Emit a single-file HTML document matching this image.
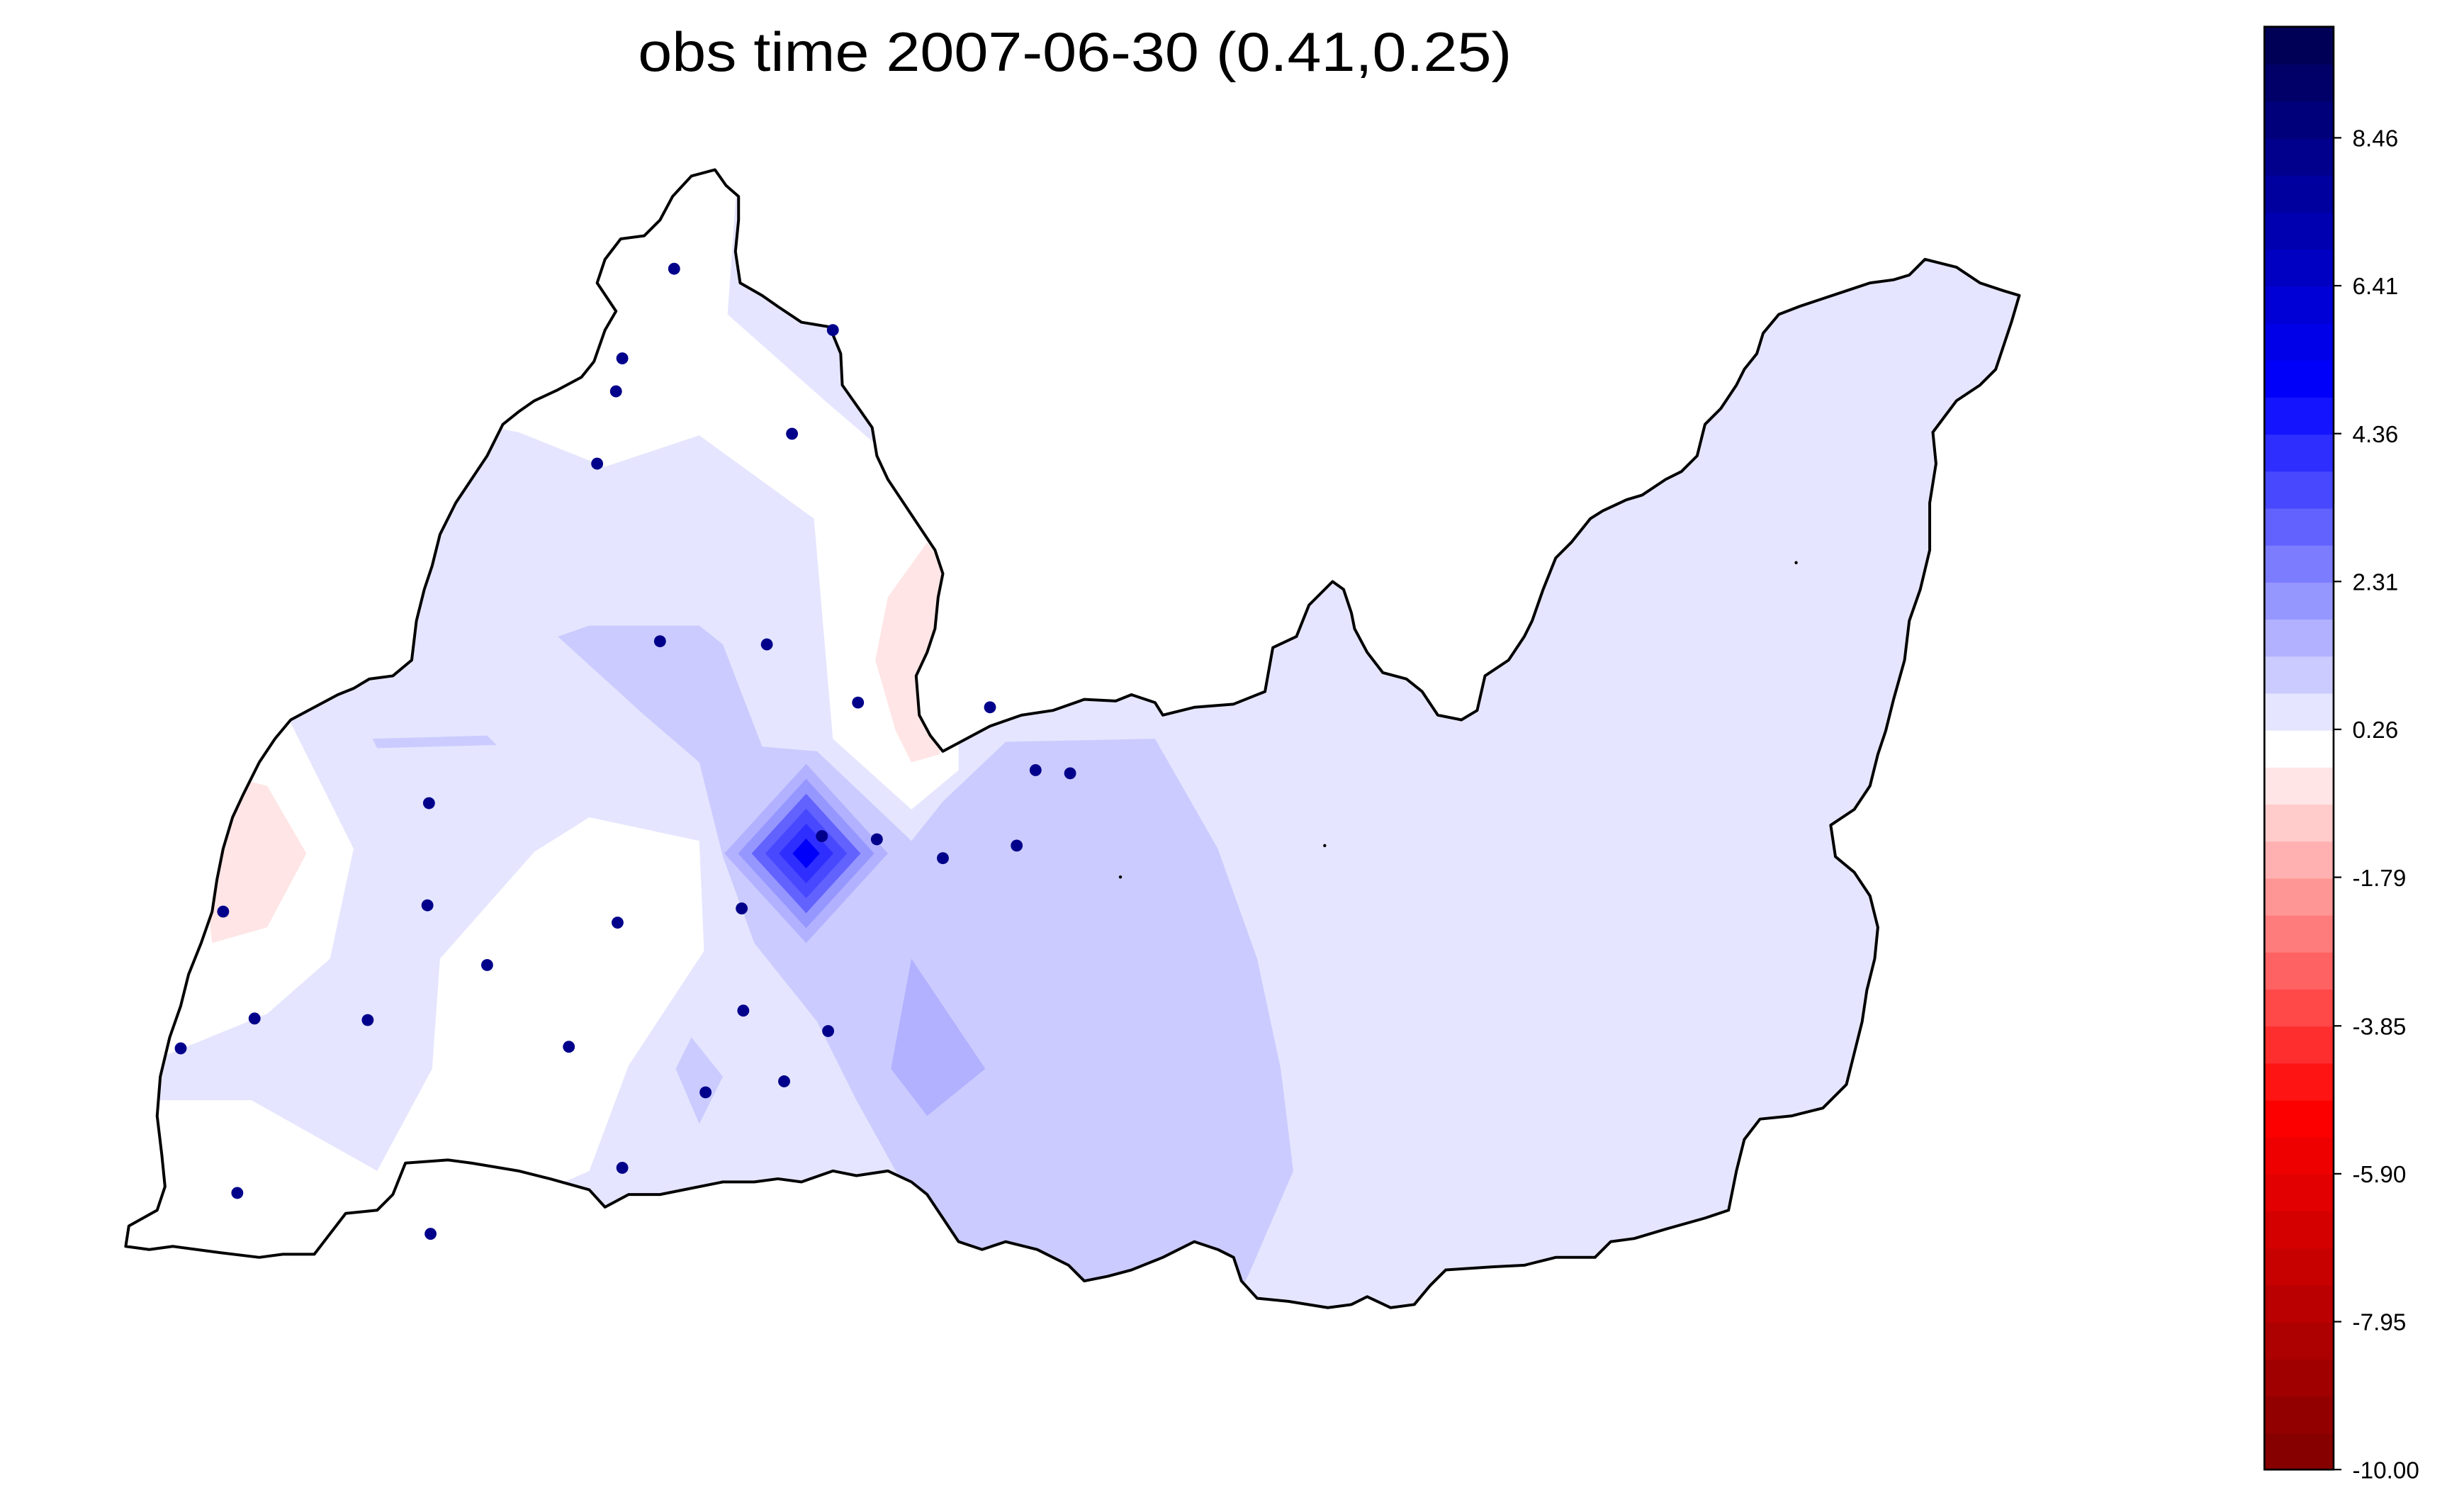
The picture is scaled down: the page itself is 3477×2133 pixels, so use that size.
<!DOCTYPE html>
<html><head><meta charset="utf-8"><style>
html,body{margin:0;padding:0;background:#fff;}
svg{display:block;}
</style></head><body>
<svg id="chart" width="3477" height="2133" viewBox="0 0 1568 962" preserveAspectRatio="none" xmlns="http://www.w3.org/2000/svg">
<text x="684" y="45" text-anchor="middle" font-family="Liberation Sans, sans-serif" font-size="35" textLength="556" lengthAdjust="spacingAndGlyphs">obs time 2007-06-30 (0.41,0.25)</text>
<g id="map"></g>
<g id="cbar"></g>
</svg>
<script>
// colorbar / level data
const vmin = -10;
const vmax = 10;
const nBands = 39;
const tickLabels = ["-10.00","-7.95","-5.90","-3.85","-1.79","0.26","2.31","4.36","6.41","8.46"];
const tickValues = [-10,-7.95,-5.90,-3.85,-1.79,0.26,2.31,4.36,6.41,8.46];
// station locations (map coords)
const stationX = [429,530,396,392,504,380,420,488,546,630,659,681,273,523,558,647,600,142,272,472,393,310,162,234,473,527,362,115,499,449,396,151,274];
const stationY = [171,210,228,249,276,295,408,410,447,450,490,492,511,532,534,538,546,580,576,578,587,614,648,649,643,656,666,667,688,695,743,759,785];
// peak anomaly near center
const peakValue = 5.0;

const NS="http://www.w3.org/2000/svg";
function mk(tag,attrs,parent){const e=document.createElementNS(NS,tag);for(const k in attrs)e.setAttribute(k,attrs[k]);parent.appendChild(e);return e;}
function seismicR(t){
  const s=1-t; let r,g,b;
  if(s<0.25){const f=s/0.25;r=0;g=0;b=0.3+0.7*f;}
  else if(s<0.5){const f=(s-0.25)/0.25;r=f;g=f;b=1;}
  else if(s<0.75){const f=(s-0.5)/0.25;r=1;g=1-f;b=1-f;}
  else {const f=(s-0.75)/0.25;r=1-0.5*f;g=0;b=0;}
  return `rgb(${Math.round(r*255)},${Math.round(g*255)},${Math.round(b*255)})`;
}
const step=(vmax-vmin)/nBands;
function colorFor(v){let i=Math.floor((v-vmin)/step);i=Math.max(0,Math.min(nBands-1,i));return seismicR((i+0.5)/nBands);}

// colorbar
const cb=document.getElementById('cbar');
const cbX=1441,cbW=44,cbTop=17,cbBot=935;
function cbY(v){return cbBot-(v-vmin)/(vmax-vmin)*(cbBot-cbTop);}
for(let i=0;i<nBands;i++){
  const r=mk('rect',{x:cbX,y:cbY(vmin+(i+1)*step),width:cbW,height:cbY(vmin+i*step)-cbY(vmin+(i+1)*step)+0.6,fill:seismicR((i+0.5)/nBands)},cb);
  
  
}
mk('rect',{x:cbX,y:cbTop,width:cbW,height:cbBot-cbTop,fill:'none',stroke:'#000','stroke-width':1.2},cb);
tickValues.forEach((v,i)=>{
  const y=cbY(v);
  const l=mk('line',{x1:cbX+cbW,x2:cbX+cbW+5,y1:y,y2:y,stroke:'#000','stroke-width':1},cb);
  
  
  const t=mk('text',{x:cbX+cbW+12,y:y+5.5,'font-family':'Liberation Sans, sans-serif','font-size':15},cb);
  t.textContent=tickLabels[i];
  
  
});

// map
const map=document.getElementById('map');
const outline="440,112 455,108 462,118 470,125 470,140 468,160 471,180 485,188 495,195 510,205 528,208 535,225 536,245 548,262 555,272 558,290 565,305 575,320 585,335 595,350 600,365 597,380 595,400 590,415 583,430 585,455 592,468 600,478 615,470 630,462 650,455 670,452 690,445 710,446 720,442 735,447 740,455 760,450 785,448 805,440 810,412 825,405 833,385 840,378 848,370 855,375 860,390 862,400 870,415 880,428 895,432 905,440 915,455 930,458 940,452 945,430 960,420 970,405 975,395 982,375 990,355 1000,345 1012,330 1020,325 1035,318 1045,315 1060,305 1070,300 1080,290 1085,270 1095,260 1105,245 1110,235 1118,225 1122,212 1132,200 1145,195 1160,190 1175,185 1190,180 1205,178 1215,175 1225,165 1245,170 1260,180 1275,185 1285,188 1280,205 1275,220 1270,235 1260,245 1245,255 1230,275 1232,295 1228,320 1228,350 1222,375 1215,395 1212,420 1205,445 1200,465 1195,480 1190,500 1180,515 1165,525 1168,545 1180,555 1190,570 1195,590 1193,610 1188,630 1185,650 1180,670 1175,690 1160,705 1140,710 1120,712 1110,725 1105,745 1100,770 1085,775 1060,782 1040,788 1025,790 1015,800 990,800 970,805 950,806 920,808 910,818 900,830 885,832 870,825 860,830 845,832 820,828 800,826 790,815 785,800 775,795 760,790 740,800 720,808 705,812 690,815 680,805 660,795 640,790 625,795 610,790 600,775 590,760 580,752 565,745 545,748 530,745 510,752 495,750 480,752 460,752 440,756 420,760 400,760 385,768 375,757 350,750 330,745 300,740 285,738 258,740 250,760 240,770 220,772 210,785 200,798 180,798 165,800 140,797 110,793 95,795 80,793 82,780 100,770 105,755 103,735 100,710 102,685 108,660 115,640 120,620 128,600 135,580 138,560 142,540 148,520 155,505 165,485 175,470 185,458 200,450 215,442 225,438 235,432 250,430 262,420 265,395 270,375 275,360 280,340 290,320 300,305 310,290 320,270 330,262 340,255 355,248 370,240 378,230 385,210 392,198 380,180 385,165 395,152 410,150 420,140 428,125";
const defs=mk('defs',{},map);
const cp=mk('clipPath',{id:'clip'},defs);
mk('polygon',{points:outline},cp);
const zones=mk('g',{'clip-path':'url(#clip)'},map);
const base=mk('polygon',{points:outline,fill:colorFor(0.5)},zones);


function zone(pts,v,name){const p=mk('polygon',{points:pts,fill:colorFor(v)},zones);
  
  }
zone("250,100 470,100 463,200 525,255 560,285 610,350 610,490 580,515 530,470 518,330 445,277 385,297 330,275 250,260",0,'field-zone-north');
zone("590,345 600,360 598,480 580,485 570,465 557,420 565,380",-0.3,'field-zone-pink-east');
zone("60,460 185,460 225,540 210,610 170,645 60,690",0,'field-zone-west');
zone("150,495 170,500 195,543 170,590 135,600 130,560",-0.3,'field-zone-pink-west');
zone("60,700 160,700 240,745 275,680 280,610 340,542 375,520 445,535 448,605 400,678 375,745 250,800 60,810",0,'field-zone-southwest');
zone("430,680 440,660 460,685 445,715",1.0,'field-zone-blob');
zone("355,405 375,398 445,398 460,410 485,475 520,478 580,535 600,510 640,472 735,470 775,540 800,610 815,680 823,745 795,810 780,840 700,840 600,790 570,745 545,700 520,650 480,600 460,545 445,485 410,455",1.0,'field-zone-central');
zone("500,680 520,668 513,740",0.5,'field-zone-small');
zone("580,610 627,680 590,710 567,680",1.5,'field-zone-dark');
zone("237,470 310,468 316,474 240,476",1.0,'field-zone-strip');
const cx=513,cy=543;
for(let k=0;k<6;k++){
  const f=1-k/6, dx=52*f, dy=57*f;
  const v=1.5+(peakValue-1.5)*k/5;
  zone(`${cx},${cy-dy} ${cx+dx},${cy} ${cx},${cy+dy} ${cx-dx},${cy}`,v,'field-peak-contour');
}
const ol=mk('polygon',{points:outline,fill:'none',stroke:'#000','stroke-width':1.8,'stroke-linejoin':'round'},map);


[[1143,358],[843,538],[713,558]].forEach(p=>mk('circle',{cx:p[0],cy:p[1],r:1,fill:'#000'},map));
for(let i=0;i<stationX.length;i++){
  const c=mk('circle',{cx:stationX[i],cy:stationY[i],r:3.8,fill:'#00008b'},map);
  
  
}
</script>
</body></html>
